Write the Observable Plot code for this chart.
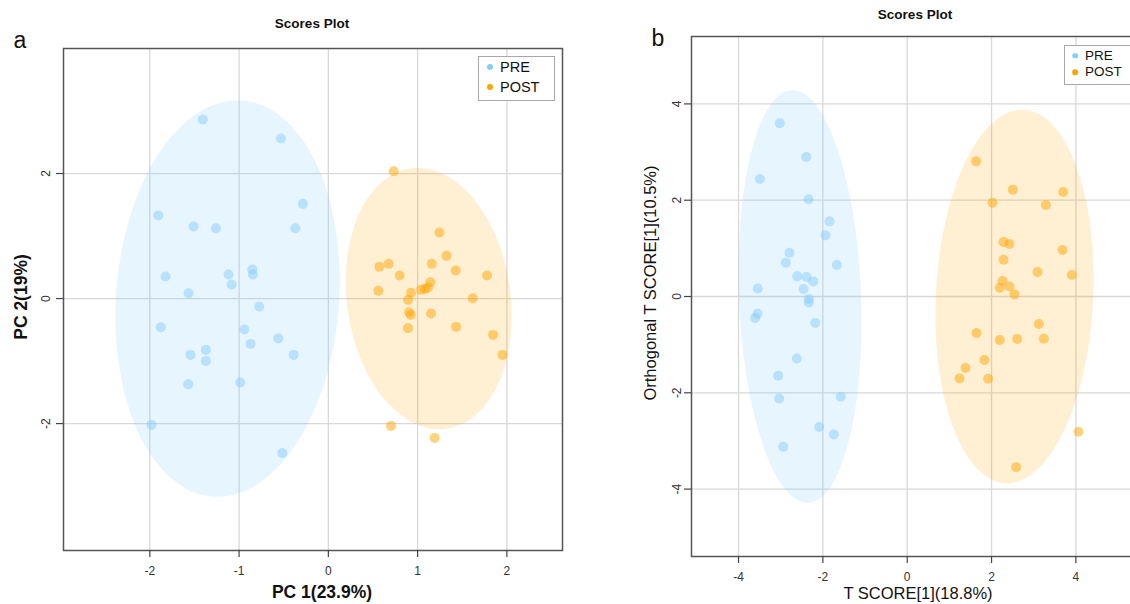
<!DOCTYPE html>
<html>
<head>
<meta charset="utf-8">
<script src="https://cdn.jsdelivr.net/npm/d3@7"></script>
<script src="https://cdn.jsdelivr.net/npm/@observablehq/plot@0.6"></script>
<style>
  html, body { margin: 0; padding: 0; background: #fff; overflow: hidden; }
  #wrap { position: relative; width: 1130px; height: 604px; overflow: hidden; font-family: "Liberation Sans", Arial, sans-serif; color: #111; }
  .abs { position: absolute; white-space: nowrap; line-height: 1; }
  .c { transform: translate(-50%, -50%); }
  .rot { transform: translate(-50%, -50%) rotate(-90deg); }
  .legend { position: absolute; border: 1px solid #a8a8a8; background: #fff; }
  .litem { position: absolute; white-space: nowrap; line-height: 1; transform: translateY(-50%); }
  .ldot { position: absolute; border-radius: 50%; transform: translate(-50%, -50%); }
</style>
</head>
<body>
<div id="wrap"></div>
<script>
// ---------- DATA ----------
const groups = ["PRE", "POST"];
const groupColors = ["#87CEFA", "#FFA500"];
const ellipseOpacity = [0.2, 0.17];

// Panel a: PCA scores
const preA_x = [-1.406,-0.531,-0.285,-1.906,-1.51,-1.26,-0.37,-1.824,-1.118,-0.852,-0.845,-1.084,-1.566,-0.774,-1.877,-0.942,-0.561,-0.871,-1.372,-1.544,-0.389,-1.372,-1.57,-0.987,-1.981,-0.516];
const preA_y = [2.864,2.56,1.515,1.328,1.152,1.125,1.125,0.352,0.384,0.464,0.384,0.224,0.085,-0.128,-0.459,-0.496,-0.64,-0.725,-0.821,-0.901,-0.901,-0.997,-1.371,-1.344,-2.021,-2.469];
const postA_x = [0.732,1.244,1.323,0.572,0.676,1.158,1.427,0.799,1.778,1.143,1.038,1.083,1.117,0.926,0.561,0.893,1.618,0.904,0.923,1.15,0.893,1.431,1.845,1.951,0.702,1.192];
const postA_y = [2.037,1.056,0.683,0.507,0.555,0.555,0.448,0.368,0.368,0.261,0.139,0.155,0.176,0.091,0.123,-0.021,0.005,-0.219,-0.261,-0.24,-0.475,-0.453,-0.581,-0.901,-2.037,-2.229];

// Panel b: OPLS-DA scores
const preB_x = [-3.021,-2.395,-3.495,-2.34,-1.843,-1.937,-2.791,-2.878,-1.669,-2.608,-2.388,-2.229,-3.543,-2.459,-2.333,-2.333,-3.55,-3.605,-2.182,-2.618,-3.059,-3.035,-1.575,-2.087,-1.741,-2.941];
const preB_y = [3.597,2.899,2.441,2.018,1.561,1.27,0.91,0.702,0.654,0.418,0.405,0.314,0.168,0.156,-0.052,-0.123,-0.357,-0.447,-0.551,-1.286,-1.646,-2.117,-2.082,-2.712,-2.865,-3.121];
const postB_x = [1.636,2.505,3.699,2.023,3.287,2.284,2.426,3.683,2.284,3.09,3.904,2.26,2.196,2.426,2.545,3.121,1.643,2.196,2.608,3.239,1.833,1.382,1.24,1.921,4.062,2.584];
const postB_y = [2.807,2.219,2.171,1.949,1.901,1.132,1.09,0.966,0.765,0.509,0.447,0.322,0.183,0.21,0.044,-0.571,-0.759,-0.904,-0.884,-0.877,-1.32,-1.486,-1.701,-1.708,-2.809,-3.544];

// Confidence ellipses: centre, half-extent in x and y, correlation (PRE, POST)
const ellA_cx = [-1.129, 1.124], ellA_cy = [0.0, 0.0], ellA_sx = [1.256, 0.93], ellA_sy = [3.17, 2.09], ellA_rho = [0.09, -0.13];
const ellB_cx = [-2.542, 2.545], ellB_cy = [0.0, 0.0], ellB_sx = [1.458, 1.877], ellB_sy = [4.285, 3.879], ellB_rho = [-0.12, 0.095];

// Ticks
const xTicksA = [-2, -1, 0, 1, 2];
const yTicksA = [-2, 0, 2];
const xTicksB = [-4, -2, 0, 2, 4];
const yTicksB = [-4, -2, 0, 2, 4];

// ---------- BUILD ----------
function pts(xs, ys, g) { return xs.map((x, i) => ({x, y: ys[i], g})); }
function ellipse(cx, cy, sx, sy, rho, g) {
  const a = Math.acos(rho), out = [];
  for (let i = 0; i <= 180; i++) {
    const t = i / 180 * 2 * Math.PI;
    out.push({x: cx + sx * Math.cos(t), y: cy + sy * Math.cos(t - a), g});
  }
  return out;
}
const fillOf = g => groupColors[groups.indexOf(g)];

function panel(o) {
  const dots = [...pts(o.px, o.py, "PRE"), ...pts(o.qx, o.qy, "POST")];
  const ellMarks = [0, 1].map(i => Plot.line(
    ellipse(o.e.cx[i], o.e.cy[i], o.e.sx[i], o.e.sy[i], o.e.rho[i], groups[i]),
    {x: "x", y: "y", fill: groupColors[i], fillOpacity: ellipseOpacity[i], stroke: "none", curve: "linear-closed"}));
  return Plot.plot({
    width: o.width, height: 604,
    marginLeft: o.ml, marginRight: o.mr, marginTop: o.mt, marginBottom: o.mb,
    x: {domain: o.xd}, y: {domain: o.yd},
    style: {fontFamily: "'Liberation Sans', Arial, sans-serif", fontSize: "12px", color: "#333", background: "transparent", overflow: "visible"},
    marks: [
      Plot.gridX(o.xt, {stroke: "#d8d8d8", strokeOpacity: 1, strokeWidth: 1.3}),
      Plot.gridY(o.yt, {stroke: "#d8d8d8", strokeOpacity: 1, strokeWidth: 1.3}),
      ...ellMarks,
      Plot.dot(dots, {x: "x", y: "y", r: 5, fill: d => fillOf(d.g), fillOpacity: 0.5, stroke: "none"}),
      Plot.frame({stroke: "#555", strokeWidth: 1.5}),
      Plot.axisX(o.xt, {tickSize: 7, tickPadding: 9, label: null, stroke: "#444", strokeWidth: 1.2, tickFormat: d => String(d), fill: "#333"}),
      Plot.axisY(o.yt, {tickSize: 7, tickPadding: o.yPad, tickRotate: -90, label: null, stroke: "#444", strokeWidth: 1.2, tickFormat: d => String(d), fill: "#333"})
    ]
  });
}

const wrap = document.getElementById("wrap");

const pa = panel({width: 580, ml: 63, mr: 18, mt: 48, mb: 54,
  xd: [-2.967, 2.623], yd: [-4.03, 4.0], xt: xTicksA, yt: yTicksA, yPad: 7,
  px: preA_x, py: preA_y, qx: postA_x, qy: postA_y,
  e: {cx: ellA_cx, cy: ellA_cy, sx: ellA_sx, sy: ellA_sy, rho: ellA_rho}});
pa.style.position = "absolute"; pa.style.left = "0px"; pa.style.top = "0px";
wrap.appendChild(pa);

const pb = panel({width: 540, ml: 91, mr: 4, mt: 36, mb: 48,
  xd: [-5.115, 5.437], yd: [-5.4, 5.4], xt: xTicksB, yt: yTicksB, yPad: 4,
  px: preB_x, py: preB_y, qx: postB_x, qy: postB_y,
  e: {cx: ellB_cx, cy: ellB_cy, sx: ellB_sx, sy: ellB_sy, rho: ellB_rho}});
pb.style.position = "absolute"; pb.style.left = "600px"; pb.style.top = "0px";
wrap.appendChild(pb);

// ---------- TEXT ----------
function txt(s, x, y, css, cls) {
  const d = document.createElement("div");
  d.className = "abs " + (cls || "c");
  d.textContent = s;
  d.style.left = x + "px"; d.style.top = y + "px";
  Object.assign(d.style, css || {});
  wrap.appendChild(d);
}
txt("a", 20, 40, {fontSize: "23px"});
txt("b", 658, 38, {fontSize: "23px"});
txt("Scores Plot", 312, 24, {fontSize: "13.5px", fontWeight: "bold"});
txt("Scores Plot", 915, 15, {fontSize: "13.5px", fontWeight: "bold"});
txt("PC 1(23.9%)", 322, 593, {fontSize: "17.5px", fontWeight: "bold"});
txt("PC 2(19%)", 22, 297, {fontSize: "17.5px", fontWeight: "bold"}, "rot");
txt("T SCORE[1](18.8%)", 918, 593, {fontSize: "16.5px"});
txt("Orthogonal T SCORE[1](10.5%)", 650, 283, {fontSize: "16.5px"}, "rot");

function legend(x, y, w, h, items, dotX, textX, fs, dotR) {
  const b = document.createElement("div");
  b.className = "legend";
  Object.assign(b.style, {left: x + "px", top: y + "px", width: w + "px", height: h + "px"});
  wrap.appendChild(b);
  items.forEach(([label, color, cy]) => {
    const d = document.createElement("div");
    d.className = "ldot";
    Object.assign(d.style, {left: dotX + "px", top: cy + "px", width: 2 * dotR + "px", height: 2 * dotR + "px", background: color});
    wrap.appendChild(d);
    const t = document.createElement("div");
    t.className = "litem";
    t.textContent = label;
    Object.assign(t.style, {left: textX + "px", top: cy + "px", fontSize: fs + "px"});
    wrap.appendChild(t);
  });
}
legend(478, 56, 75, 43, [[groups[0], groupColors[0], 67], [groups[1], groupColors[1], 86.5]], 490, 500, 14.5, 3);
legend(1064, 45, 80, 38, [[groups[0], groupColors[0], 55.5], [groups[1], groupColors[1], 72]], 1075, 1085, 13.5, 2.8);
</script>
</body>
</html>
